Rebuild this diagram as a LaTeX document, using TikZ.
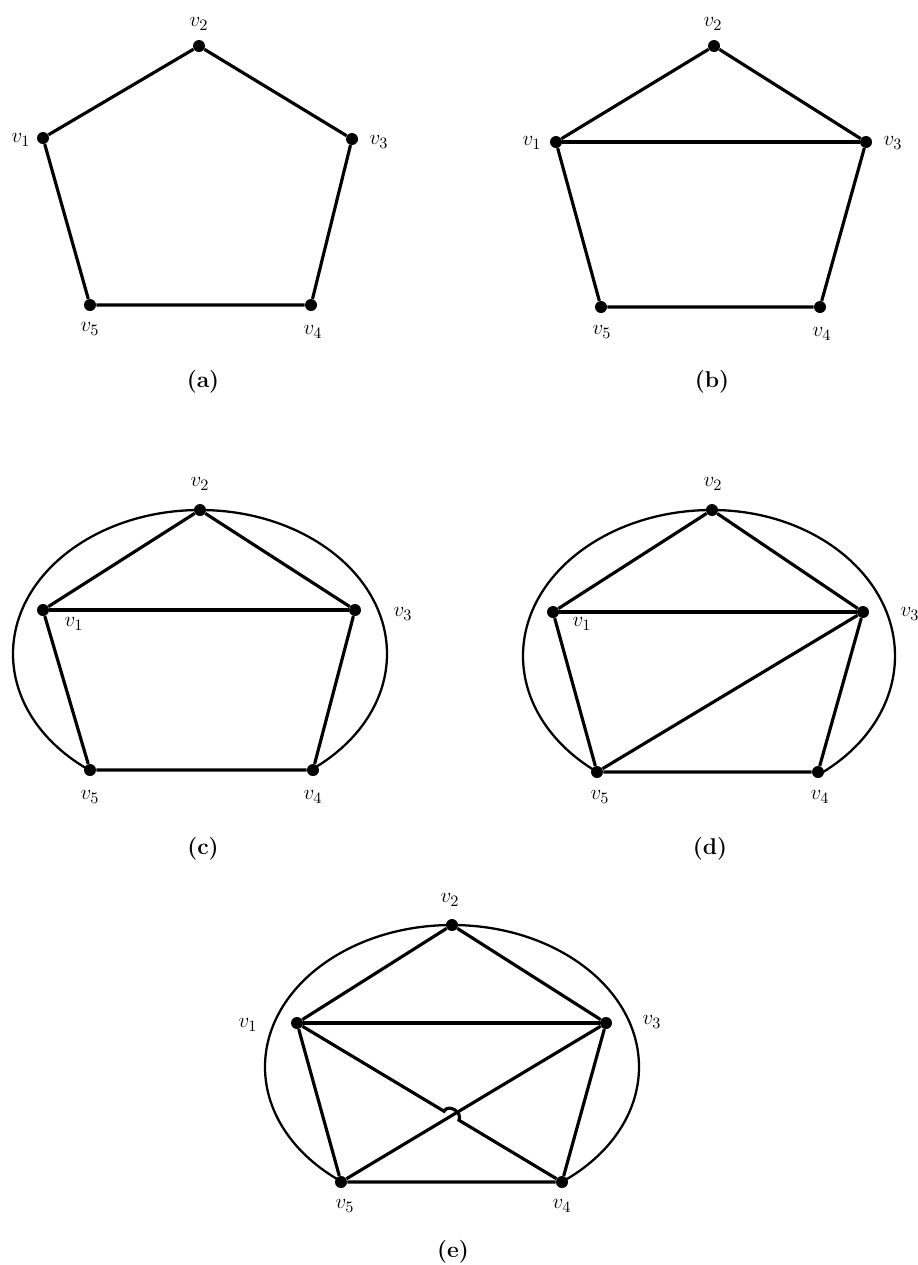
\documentclass[tikz,border=0pt]{standalone}
\usetikzlibrary{calc}
\begin{document}
\begin{tikzpicture}[x=0.02cm,y=-0.02cm,
  dot/.style={circle,fill=black,inner sep=0pt,minimum size=0.24cm},
  edge/.style={line width=1.8pt},
  outer/.style={line width=1.3pt},
  vlab/.style={font=\fontsize{13}{15}\selectfont,inner sep=0pt},
  captext/.style={font=\fontsize{13}{15}\selectfont\bfseries,inner sep=0pt}]
\useasboundingbox (0,0) rectangle (917,1265);
% ---------- (a)
\node[dot] (a2) at (199,46) {};
\node[dot] (a1) at (43,138) {};
\node[dot] (a3) at (352,139) {};
\node[dot] (a5) at (90,305) {};
\node[dot] (a4) at (311,305) {};
\draw[edge] (a1) -- (a2) -- (a3) -- (a4) -- (a5) -- (a1);
\node[vlab] (la2) at (199,24) {$v_2$};
\node[vlab] (la1) at (21,140) {$v_1$};
\node[vlab] (la3) at (379,142) {$v_3$};
\node[vlab] (la5) at (90,329) {$v_5$};
\node[vlab] (la4) at (313,332) {$v_4$};
\node[captext] (capa) at (203,382) {(a)};
% ---------- (b)
\node[dot] (b2) at (714,46) {};
\node[dot] (b1) at (556,142) {};
\node[dot] (b3) at (866,142) {};
\node[dot] (b5) at (601,307) {};
\node[dot] (b4) at (820,307) {};
\draw[edge] (b1) -- (b2) -- (b3) -- (b4) -- (b5) -- (b1);
\draw[edge] (b1) -- (b3);
\node[vlab] (lb2) at (713,24) {$v_2$};
\node[vlab] (lb1) at (532,143) {$v_1$};
\node[vlab] (lb3) at (893,143) {$v_3$};
\node[vlab] (lb5) at (602,332) {$v_5$};
\node[vlab] (lb4) at (822,334) {$v_4$};
\node[captext] (capb) at (712,382) {(b)};
% ---------- (c)
\node[dot] (c2) at (200,510) {};
\node[dot] (c1) at (43,610) {};
\node[dot] (c3) at (355,610) {};
\node[dot] (c5) at (90,770) {};
\node[dot] (c4) at (313,770) {};
\draw[edge] (c1) -- (c2) -- (c3) -- (c4) -- (c5) -- (c1);
\draw[edge] (c1) -- (c3);
\draw[outer] (c2.center) arc[start angle=270,end angle=126,x radius=187,y radius=144];
\draw[outer] (c2.center) arc[start angle=-90,end angle=53,x radius=187,y radius=144];
\node[vlab] (lc2) at (200,484) {$v_2$};
\node[vlab] (lc1) at (74,624) {$v_1$};
\node[vlab] (lc3) at (403,614) {$v_3$};
\node[vlab] (lc5) at (90,797) {$v_5$};
\node[vlab] (lc4) at (313,797) {$v_4$};
\node[captext] (capc) at (203,849) {(c)};
% ---------- (d)
\node[dot] (d2) at (712,510) {};
\node[dot] (d1) at (553,612) {};
\node[dot] (d3) at (863,612) {};
\node[dot] (d5) at (597,772) {};
\node[dot] (d4) at (818,772) {};
\draw[edge] (d1) -- (d2) -- (d3) -- (d4) -- (d5) -- (d1);
\draw[edge] (d1) -- (d3);
\draw[edge] (d3) -- (d5);
\draw[outer] (d2.center) arc[start angle=270,end angle=128,x radius=189,y radius=146];
\draw[outer] (d2.center) arc[start angle=-90,end angle=55,x radius=183,y radius=146];
\node[vlab] (ld2) at (713,484) {$v_2$};
\node[vlab] (ld1) at (582,624) {$v_1$};
\node[vlab] (ld3) at (910,614) {$v_3$};
\node[vlab] (ld5) at (600,797) {$v_5$};
\node[vlab] (ld4) at (820,797) {$v_4$};
\node[captext] (capd) at (710,849) {(d)};
% ---------- (e)
\node[dot] (e2) at (452,925) {};
\node[dot] (e1) at (297,1023) {};
\node[dot] (e3) at (606,1023) {};
\node[dot] (e5) at (341,1182) {};
\node[dot] (e4) at (562,1182) {};
\draw[edge] (e1) -- (e2) -- (e3) -- (e4) -- (e5) -- (e1);
\draw[edge] (e1) -- (e3);
\draw[edge] (e3) -- (e5);
\draw[edge] (e1) -- ($(e1)!0.555!(e4)$) .. controls +(4,-8) and +(4,-8) .. ($(e1)!0.611!(e4)$) -- (e4);
\draw[outer] (e2.center) arc[start angle=270,end angle=126,x radius=187,y radius=142];
\draw[outer] (e2.center) arc[start angle=-90,end angle=54,x radius=187,y radius=142];
\node[vlab] (le2) at (450,900) {$v_2$};
\node[vlab] (le1) at (248,1025) {$v_1$};
\node[vlab] (le3) at (652,1022) {$v_3$};
\node[vlab] (le5) at (345,1206) {$v_5$};
\node[vlab] (le4) at (562,1206) {$v_4$};
\node[captext] (cape) at (453,1252) {(e)};
\end{tikzpicture}
\end{document}
